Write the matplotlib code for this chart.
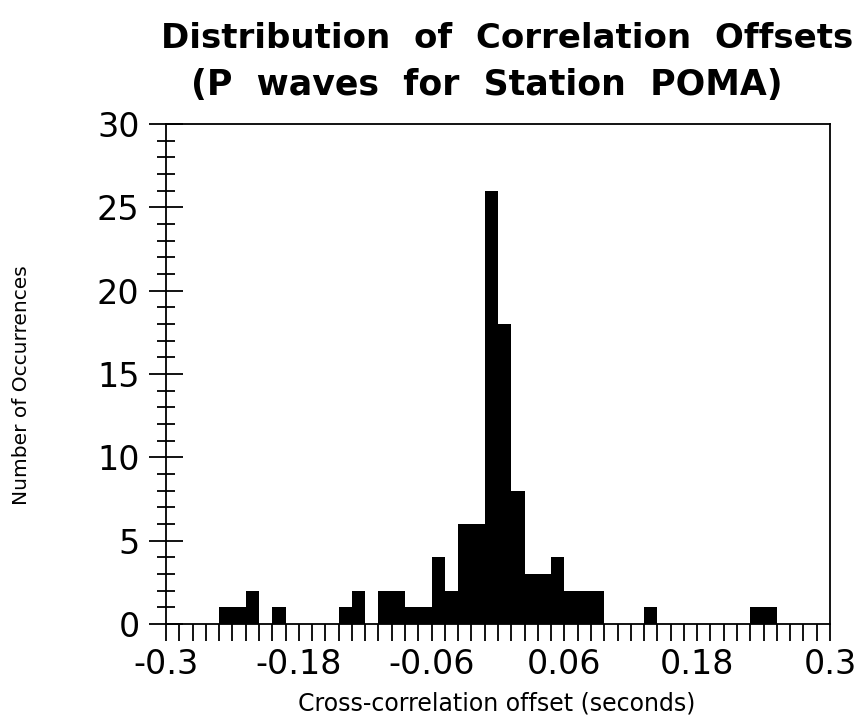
import numpy as np
import matplotlib
matplotlib.use("Agg")
import matplotlib.pyplot as plt
from matplotlib.ticker import MultipleLocator

# Histogram data: 50 bins of width 0.012 s from -0.3 to 0.3
bin_start = -0.3
bin_width = 0.012
counts = [0, 0, 0, 0, 1, 1, 2, 0, 1, 0,
          0, 0, 0, 1, 2, 0, 2, 2, 1, 1,
          4, 2, 6, 6, 26, 18, 8, 3, 3, 4,
          2, 2, 2, 0, 0, 0, 1, 0, 0, 0,
          0, 0, 0, 0, 1, 1, 0, 0, 0, 0]
xtick_values = [-0.3, -0.18, -0.06, 0.06, 0.18, 0.3]
xtick_labels = ["-0.3", "-0.18", "-0.06", "0.06", "0.18", "0.3"]
ytick_values = [0, 5, 10, 15, 20, 25, 30]

title_line1 = "Distribution  of  Correlation  Offsets"
title_line2 = "(P  waves  for  Station  POMA)"
xlabel = "Cross-correlation offset (seconds)"
ylabel = "Number of Occurrences"

plt.rcParams['font.family'] = ['DejaVu Sans']

W, H = 859, 721
fig = plt.figure(figsize=(W / 100, H / 100), dpi=100)
ax = fig.add_axes([166 / W, 1 - 624 / H, (830 - 166) / W, (624 - 124) / H])

edges = bin_start + bin_width * np.arange(len(counts) + 1)
ax.stairs(counts, edges, fill=True, color='black', linewidth=1.0)

ax.set_xlim(-0.3, 0.3)
ax.set_ylim(0, 30)

ax.set_xticks(xtick_values)
ax.set_xticklabels(xtick_labels)
ax.xaxis.set_minor_locator(MultipleLocator(bin_width))
ax.set_yticks(ytick_values)
ax.yaxis.set_minor_locator(MultipleLocator(1))

ax.tick_params(axis='x', which='both', direction='out', length=12, width=1.3,
               labelsize=24, pad=5)
ax.tick_params(axis='y', which='major', direction='inout', length=24, width=1.3,
               labelsize=24, pad=7)
ax.tick_params(axis='y', which='minor', direction='inout', length=13, width=1.3)

for s in ax.spines.values():
    s.set_linewidth(1.3)

fig.text(161 / W, 1 - 48 / H, title_line1, fontsize=24.5, fontweight='bold',
         ha='left', va='baseline')
fig.text(487 / W, 1 - 95 / H, title_line2, fontsize=25, fontweight='bold',
         ha='center', va='baseline')

fig.text(497 / W, 1 - 711 / H, xlabel, fontsize=17, ha='center', va='baseline')
fig.text(22 / W, 1 - 385 / H, ylabel, fontsize=14.5, ha='center', va='center',
         rotation=90)

fig.savefig("out.png", dpi=100)
